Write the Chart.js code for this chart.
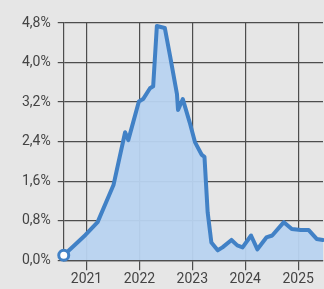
<!DOCTYPE html>
<html>
<head>
<meta charset="utf-8">
<script src="https://cdn.jsdelivr.net/npm/chart.js@4/dist/chart.umd.min.js"></script>
<style>
html,body{margin:0;padding:0;background:#e6e6e6;overflow:hidden;}
#wrap{position:relative;width:324px;height:289px;overflow:hidden;}
</style>
</head>
<body>
<div id="wrap"><canvas id="c" width="331" height="289"></canvas></div>
<script>
// Dates as decimal years, values in percent
const dates = [2020.57, 2020.98, 2021.21, 2021.51, 2021.73, 2021.79, 2021.99, 2022.07, 2022.20, 2022.26,
  2022.33, 2022.48, 2022.58, 2022.71, 2022.73, 2022.82, 2022.95, 2023.05, 2023.18, 2023.23,
  2023.29, 2023.36, 2023.48, 2023.57, 2023.74, 2023.85, 2023.95, 2024.11, 2024.23, 2024.40,
  2024.51, 2024.73, 2024.88, 2025.05, 2025.20, 2025.35, 2025.47];
const values = [0.10, 0.51, 0.77, 1.52, 2.59, 2.43, 3.21, 3.26, 3.48, 3.52,
  4.74, 4.70, 4.13, 3.36, 3.04, 3.26, 2.79, 2.39, 2.13, 2.09,
  0.97, 0.36, 0.20, 0.26, 0.41, 0.30, 0.26, 0.50, 0.22, 0.46,
  0.50, 0.77, 0.63, 0.61, 0.61, 0.43, 0.41];
const yearTicks = [2021, 2022, 2023, 2024, 2025];
const yTicks = [0, 0.8, 1.6, 2.4, 3.2, 4.0, 4.8];

const pts = dates.map((d, i) => ({x: d, y: values[i]}));
const gridColor = '#4d4d4d';
const textColor = '#444';

new Chart(document.getElementById('c'), {
  type: 'line',
  data: {
    datasets: [{
      data: pts,
      clip: false,
      borderColor: '#4181c6',
      borderWidth: 4,
      backgroundColor: 'rgba(184,211,240,0.95)',
      fill: 'origin',
      tension: 0,
      pointRadius: pts.map((p, i) => i === 0 ? 5 : 0),
      pointBorderWidth: 3,
      pointBackgroundColor: '#ffffff',
      pointBorderColor: '#4181c6',
      borderJoinStyle: 'round',
      borderCapStyle: 'round'
    }]
  },
  options: {
    responsive: false,
    animation: false,
    layout: {padding: {top: 23, right: 0, left: 15, bottom: 0}},
    plugins: {legend: {display: false}, tooltip: {enabled: false}},
    scales: {
      x: {
        type: 'linear',
        min: dates[0],
        max: dates[dates.length - 1],
        afterBuildTicks: (axis) => { axis.ticks = yearTicks.map(v => ({value: v})); },
        ticks: {
          color: textColor,
          font: {family: 'Roboto', size: 14},
          padding: 1,
          maxRotation: 0,
          callback: (v) => String(v)
        },
        grid: {color: gridColor, lineWidth: 1.2, tickLength: 10, drawOnChartArea: true},
        border: {display: true, color: gridColor, width: 1.2}
      },
      y: {
        min: 0,
        max: 4.8,
        afterBuildTicks: (axis) => { axis.ticks = yTicks.map(v => ({value: v})); },
        ticks: {
          color: textColor,
          font: {family: 'Roboto', size: 14},
          padding: 7,
          callback: (v) => v.toFixed(1).replace('.', ',') + '%'
        },
        grid: {color: gridColor, lineWidth: 1.2, tickLength: 6},
        border: {display: true, color: gridColor, width: 1.2}
      }
    }
  },
  plugins: [{
    id: 'bg',
    beforeDraw(chart) {
      const ctx = chart.ctx;
      ctx.save();
      ctx.fillStyle = '#e6e6e6';
      ctx.fillRect(0, 0, chart.width, chart.height);
      ctx.restore();
    }
  }]
});
</script>
</body>
</html>
